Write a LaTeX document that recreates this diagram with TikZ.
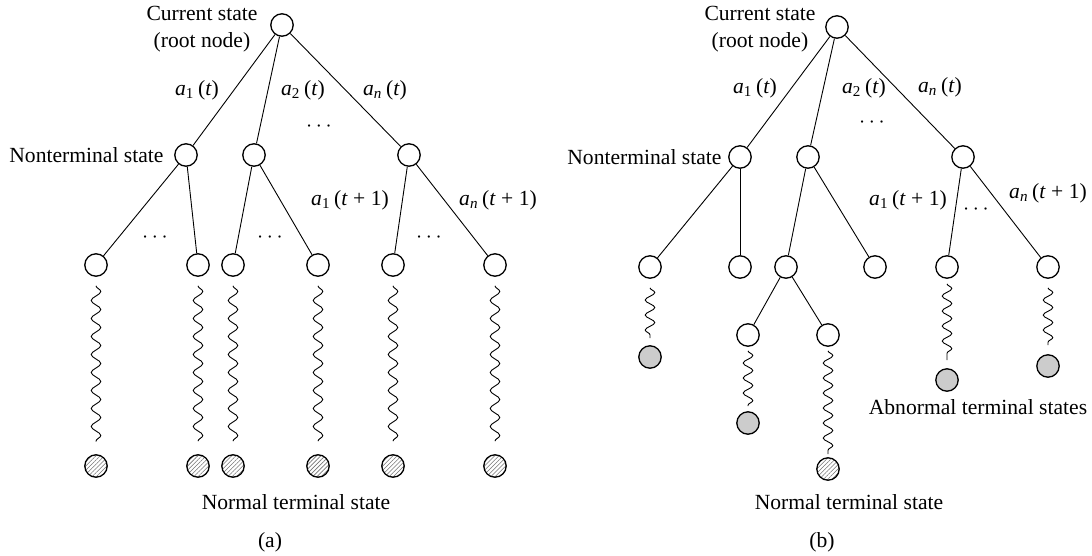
\documentclass[tikz,border=0pt]{standalone}
\usepackage{fontspec}
\setmainfont{Liberation Serif}
\usetikzlibrary{decorations.pathmorphing,patterns.meta,calc}

\newcommand{\act}[2]{\textit{a}\textsubscript{#1}\,(#2)}

\begin{document}
\begin{tikzpicture}[x=0.5pt,y=-0.5pt,line width=0.45pt,
    state/.style={circle,draw,line width=0.65pt,minimum size=11.2pt,inner sep=0pt},
    normal/.style={state,pattern={Lines[angle=45,distance=1.5pt,line width=0.3pt]},pattern color=black!55},
    abnormal/.style={state,fill=black!20},
    wave/.style={decorate,decoration={snake,segment length=#1,amplitude=2.4pt}},
    wave/.default=9pt,
    lbl/.style={font=\fontsize{10.8}{13.5}\selectfont,inner sep=0pt}]
    \useasboundingbox (0,0) rectangle (1092,556);

    % ---------------- (a) ----------------
    \node[state]                 (ra)   at (282,25)  {};
    \node[lbl,align=center]      (cura) at (202,29)  {Current state\\(root node)};
    \node[state]                 (a1)   at (186,155) {};
    \node[state]                 (a2)   at (254,155) {};
    \node[state]                 (a3)   at (409,155) {};
    \node[lbl,anchor=east]       (nta)  at (164,155) {Nonterminal state};

    \foreach \n/\x in {1/96,2/198,3/233,4/318,5/393,6/495}{
        \node[state]  (b\n) at (\x,265) {};
        \node[normal] (c\n) at (\x,466) {};
        \draw[wave] ($(b\n.south)+(0,9)$) -- ($(c\n.north)-(0,13)$);
    }

    \path (ra) edge (a1);
    \path (ra) edge (a2);
    \path (ra) edge (a3);
    \path (a1) edge (b1);
    \path (a1) edge (b2);
    \path (a2) edge (b3);
    \path (a2) edge (b4);
    \path (a3) edge (b5);
    \path (a3) edge (b6);

    \node[lbl] (la1a)  at (197,90)  {\act{1}{\textit{t}}};
    \node[lbl] (la2a)  at (303,90)  {\act{2}{\textit{t}}};
    \node[lbl] (lana)  at (385,90)  {\act{\textit{n}}{\textit{t}}};
    \node[lbl] (da0)   at (319,127) {$\cdots$};
    \node[lbl] (lb1a)  at (350,200) {\act{1}{\textit{t} + 1}};
    \node[lbl] (lbna)  at (498,200) {\act{\textit{n}}{\textit{t} + 1}};
    \node[lbl] (da1)   at (155,238) {$\cdots$};
    \node[lbl] (da2)   at (270,238) {$\cdots$};
    \node[lbl] (da3)   at (429,238) {$\cdots$};
    \node[lbl] (norma) at (296,502) {Normal terminal state};
    \node[lbl] (capa)  at (270,542) {(a)};

    % ---------------- (b) ----------------
    \node[state]                 (rb)   at (837,27)  {};
    \node[lbl,align=center]      (curb) at (760,29)  {Current state\\(root node)};
    \node[state]                 (p1)   at (740,157) {};
    \node[state]                 (p2)   at (808,157) {};
    \node[state]                 (p3)   at (963,157) {};
    \node[lbl,anchor=east]       (ntb)  at (722,157) {Nonterminal state};

    \node[state] (q1) at (650,267)  {};
    \node[state] (q2) at (740,267)  {};
    \node[state] (q3) at (786,267)  {};
    \node[state] (q4) at (875,267)  {};
    \node[state] (q5) at (947,267)  {};
    \node[state] (q6) at (1048,267) {};
    \node[state] (s1) at (748,335)  {};
    \node[state] (s2) at (828,335)  {};

    \node[abnormal] (g1) at (650,357)  {};
    \node[abnormal] (g2) at (748,423)  {};
    \node[normal]   (h1) at (828,469)  {};
    \node[abnormal] (g3) at (947,380)  {};
    \node[abnormal] (g4) at (1048,366) {};

    \path (rb) edge (p1);
    \path (rb) edge (p2);
    \path (rb) edge (p3);
    \path (p1) edge (q1);
    \path (p1) edge (q2);
    \path (p2) edge (q3);
    \path (p2) edge (q4);
    \path (p3) edge (q5);
    \path (p3) edge (q6);
    \path (q3) edge (s1);
    \path (q3) edge (s2);

    \draw[wave=7.5pt] ($(q1.south)+(0,9)$)  -- ($(g1.north)-(0,7)$);
    \draw[wave=7.5pt] ($(s1.south)+(0,4)$)  -- ($(g2.north)-(0,5)$);
    \draw[wave=7.5pt] ($(s2.south)+(0,4)$)  -- ($(h1.north)-(0,3)$);
    \draw[wave=7.5pt] ($(q5.south)+(0,5)$)  -- ($(g3.north)-(0,8)$);
    \draw[wave=7.5pt] ($(q6.south)+(0,9)$)  -- ($(g4.north)-(0,9)$);

    \node[lbl] (la1b)  at (755,88)   {\act{1}{\textit{t}}};
    \node[lbl] (la2b)  at (864,88)   {\act{2}{\textit{t}}};
    \node[lbl] (lanb)  at (940,87)   {\act{\textit{n}}{\textit{t}}};
    \node[lbl] (db0)   at (872,123)  {$\cdots$};
    \node[lbl] (lb1b)  at (908,200)  {\act{1}{\textit{t} + 1}};
    \node[lbl] (db1)   at (976,210)  {$\cdots$};
    \node[lbl] (lbnb)  at (1048,193) {\act{\textit{n}}{\textit{t} + 1}};
    \node[lbl] (abn)   at (978,407)  {Abnormal terminal states};
    \node[lbl] (normb) at (849,502)  {Normal terminal state};
    \node[lbl] (capb)  at (822,542)  {(b)};
\end{tikzpicture}
\end{document}
